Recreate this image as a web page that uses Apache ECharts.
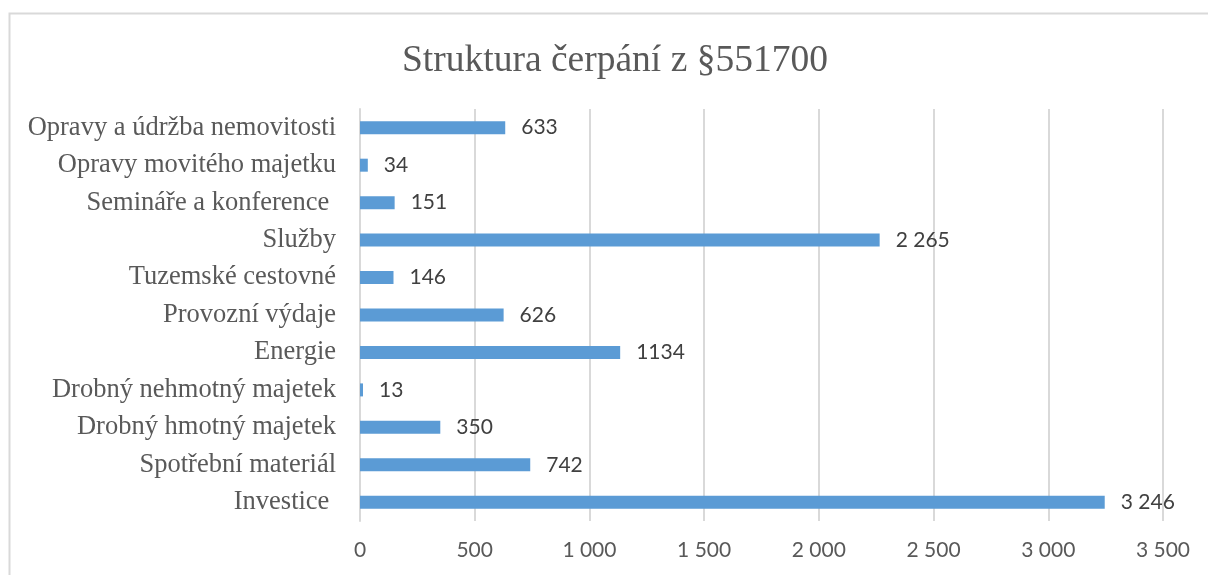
<!DOCTYPE html>
<html>
<head>
<meta charset="utf-8">
<script src="https://cdn.jsdelivr.net/npm/echarts@6/dist/echarts.min.js"></script>
<style>
    html, body { margin: 0; padding: 0; background: #fff; }
    #chart { width: 1208px; height: 575px; }
</style>
</head>
<body>
<div id="chart"></div>
<script>
// top to bottom, as in the picture
const categories = [
    'Opravy a údržba nemovitosti',
    'Opravy movitého majetku',
    'Semináře a konference ',
    'Služby',
    'Tuzemské cestovné',
    'Provozní výdaje',
    'Energie',
    'Drobný nehmotný majetek',
    'Drobný hmotný majetek',
    'Spotřební materiál',
    'Investice ',
]
const values = [633, 34, 151, 2265, 146, 626, 1134, 13, 350, 742, 3246]
const valueLabels = ['633', '34', '151', '2 265', '146', '626', '1134', '13', '350', '742', '3 246']
const tickLabels = ['0', '500', '1 000', '1 500', '2 000', '2 500', '3 000', '3 500']

const chart = echarts.init(document.getElementById('chart'))

const serif = '"Liberation Serif", "Times New Roman", serif'
const sans = 'Lato, "Open Sans", sans-serif'
const grey = '#d9d9d9'

chart.setOption({
    animation: false,
    graphic: [
        {
            type: 'rect',
            shape: { x: 9.5, y: 13.5, width: 1250, height: 620 },
            style: { fill: 'none', stroke: grey, lineWidth: 2 },
            silent: true,
        },
    ],
    title: {
        text: 'Struktura čerpání z §551700',
        left: 397,
        top: 37,
        textStyle: { fontFamily: serif, fontSize: 37.5, fontWeight: 'normal', color: '#595959' },
    },
    grid: { left: 360, right: 45, top: 109, bottom: 54 },
    xAxis: {
        type: 'value',
        min: 0,
        max: 3500,
        interval: 500,
        axisLine: { show: false },
        axisTick: { show: false },
        axisLabel: {
            margin: 19,
            fontFamily: sans,
            fontSize: 21,
            color: '#595959',
            formatter: (v) => tickLabels[Math.round(v / 500)],
        },
        splitLine: { lineStyle: { color: grey, width: 2 } },
    },
    yAxis: {
        type: 'category',
        inverse: true,
        data: categories,
        axisLine: { lineStyle: { color: grey, width: 2 } },
        axisTick: { show: false },
        axisLabel: {
            margin: 24,
            fontFamily: serif,
            fontSize: 26.5,
            color: '#595959',
        },
    },
    series: [
        {
            type: 'bar',
            data: values,
            barWidth: 13,
            itemStyle: { color: '#5b9bd5' },
            label: {
                show: true,
                position: 'right',
                distance: 16,
                fontFamily: sans,
                fontSize: 21,
                color: '#404040',
                formatter: (p) => valueLabels[p.dataIndex],
            },
        },
    ],
})
</script>
</body>
</html>
